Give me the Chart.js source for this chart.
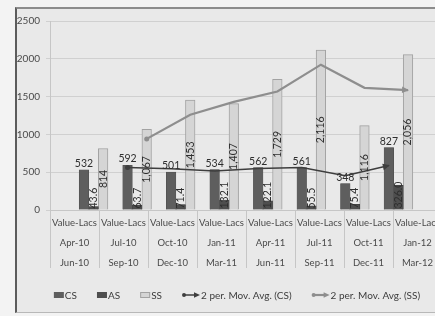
<!DOCTYPE html>
<html>
<head>
<meta charset="utf-8">
<script src="https://cdn.jsdelivr.net/npm/chart.js@4.4.1/dist/chart.umd.min.js"></script>
<style>
  html, body { margin: 0; padding: 0; width: 435px; height: 316px; overflow: hidden; background: #f3f3f3; }
  #frame {
    position: absolute; left: 15px; top: 7px; width: 440px; height: 303px;
    background: #e9e9e9; border-left: 2px solid #5c5c5c; border-top: 2px solid #8c8c8c;
    border-bottom: 1px solid #b8b8b8;
  }
  canvas { display: block; }
</style>
</head>
<body>
<div id="frame"><canvas id="chart" width="430" height="303"></canvas></div>
<script>
// quarters: start and end month of each period
const periodStart = ["Apr-10", "Jul-10", "Oct-10", "Jan-11", "Apr-11", "Jul-11", "Oct-11", "Jan-12"];
const periodEnd = ["Jun-10", "Sep-10", "Dec-10", "Mar-11", "Jun-11", "Sep-11", "Dec-11", "Mar-12"];
const measure = "Value-Lacs";

const csValues = [532, 592, 501, 534, 562, 561, 348, 827];
const asValues = [43.6, 63.7, 71.4, 132.1, 122.1, 55.5, 75.4, 326.0];
const ssValues = [814, 1067, 1453, 1407, 1729, 2116, 1116, 2056];

// 2 period moving averages, starting at the 2nd quarter
const csMovAvg = [562, 546.5, 517.5, 548, 561.5, 454.5, 587.5];
const ssMovAvg = [940.5, 1260, 1430, 1568, 1922.5, 1616, 1586];

const yTicks = [0, 500, 1000, 1500, 2000, 2500];

const CS_COLOR = "#5e5e5e";
const AS_COLOR = "#4e4e4e";
const SS_COLOR = "#d5d5d5";
const SS_BORDER = "#a2a2a2";
const CS_AVG_COLOR = "#3e3e3e";
const SS_AVG_COLOR = "#8e8e8e";

const slot = 0.22; // one bar width, in category units

Chart.defaults.font.family = "Lato, 'DejaVu Sans', sans-serif";
Chart.defaults.color = "#4a4a4a";

const labels = periodStart.map((s, i) => [measure, s, periodEnd[i]]);

// bars and trendlines share a hidden linear axis: CS left, AS middle, SS right
const csBars = csValues.map((v, i) => ({ x: i - slot, y: v }));
const asBars = asValues.map((v, i) => ({ x: i, y: v }));
const ssBars = ssValues.map((v, i) => ({ x: i + slot, y: v }));
const csAvgPoints = csMovAvg.map((v, i) => ({ x: i + 1 - slot, y: v }));
const ssAvgPoints = ssMovAvg.map((v, i) => ({ x: i + 1 + slot, y: v }));

function startDot(n) {
  return Array.from({ length: n }, (_, i) => (i === 0 ? 2.5 : 0));
}

const valueLabels = {
  id: "valueLabels",
  afterDatasetsDraw(chart) {
    const ctx = chart.ctx;
    ctx.save();
    ctx.fillStyle = "#2e2e2e";
    ctx.font = "10.5px Lato";
    chart.getDatasetMeta(0).data.forEach((bar, i) => {
      ctx.textAlign = "center";
      ctx.textBaseline = "bottom";
      ctx.fillText(csValues[i].toLocaleString("en-US"), bar.x, bar.y - 1);
    });
    chart.getDatasetMeta(1).data.forEach((bar, i) => {
      ctx.save();
      ctx.translate(bar.x, bar.base - 1);
      ctx.rotate(-Math.PI / 2);
      ctx.textAlign = "left";
      ctx.textBaseline = "middle";
      ctx.fillText(asValues[i].toFixed(1), 0, 0);
      ctx.restore();
    });
    chart.getDatasetMeta(2).data.forEach((bar, i) => {
      ctx.save();
      ctx.translate(bar.x, (bar.y + bar.base) / 2);
      ctx.rotate(-Math.PI / 2);
      ctx.textAlign = "center";
      ctx.textBaseline = "middle";
      ctx.fillText(ssValues[i].toLocaleString("en-US"), 0, 0);
      ctx.restore();
    });
    ctx.restore();
  }
};

function arrowHead(ctx, x, y, angle, size, color) {
  ctx.save();
  ctx.translate(x, y);
  ctx.rotate(angle);
  ctx.fillStyle = color;
  ctx.beginPath();
  ctx.moveTo(1, 0);
  ctx.lineTo(-size, -size * 0.55);
  ctx.lineTo(-size, size * 0.55);
  ctx.closePath();
  ctx.fill();
  ctx.restore();
}

const arrows = {
  id: "arrows",
  afterDatasetsDraw(chart) {
    [3, 4].forEach((idx) => {
      const pts = chart.getDatasetMeta(idx).data;
      const a = pts[pts.length - 2], b = pts[pts.length - 1];
      const ang = Math.atan2(b.y - a.y, b.x - a.x);
      arrowHead(chart.ctx, b.x, b.y, ang, 6, chart.data.datasets[idx].borderColor);
    });
  }
};

const legendItems = [
  { text: "CS", kind: "box", fill: CS_COLOR },
  { text: "AS", kind: "box", fill: AS_COLOR },
  { text: "SS", kind: "box", fill: SS_COLOR, stroke: SS_BORDER },
  { text: "2 per. Mov. Avg. (CS)", kind: "arrow", fill: CS_AVG_COLOR, lw: 1.5 },
  { text: "2 per. Mov. Avg. (SS)", kind: "arrow", fill: SS_AVG_COLOR, lw: 2.2 }
];

const bottomLegend = {
  id: "bottomLegend",
  afterDraw(chart) {
    const ctx = chart.ctx;
    ctx.save();
    ctx.font = "10px Lato";
    ctx.textBaseline = "middle";
    ctx.textAlign = "left";
    const gap = 20;
    const sizes = legendItems.map((it) => {
      const iw = it.kind === "box" ? 10 : 18;
      return { iw, tw: ctx.measureText(it.text).width };
    });
    const total = sizes.reduce((s, z) => s + z.iw + 1 + z.tw, 0) + gap * (legendItems.length - 1);
    let x = chart.width / 2 + 5 - total / 2;
    const y = 286;
    legendItems.forEach((it, i) => {
      const { iw, tw } = sizes[i];
      if (it.kind === "box") {
        ctx.fillStyle = it.fill;
        ctx.fillRect(x, y - 3, iw, 6);
        if (it.stroke) {
          ctx.strokeStyle = it.stroke;
          ctx.lineWidth = 1;
          ctx.strokeRect(x + 0.5, y - 2.5, iw - 1, 5);
        }
      } else {
        ctx.strokeStyle = it.fill;
        ctx.fillStyle = it.fill;
        ctx.lineWidth = it.lw;
        ctx.beginPath();
        ctx.moveTo(x + 2, y);
        ctx.lineTo(x + iw - 4, y);
        ctx.stroke();
        ctx.beginPath();
        ctx.arc(x + 2, y, 2, 0, Math.PI * 2);
        ctx.fill();
        arrowHead(ctx, x + iw - 1, y, 0, 5, it.fill);
      }
      ctx.fillStyle = "#3c3c3c";
      ctx.fillText(it.text, x + iw + 1, y + 0.5);
      x += iw + 1 + tw + gap;
    });
    ctx.restore();
  }
};

const barOpts = { xAxisID: "xl", grouped: false, categoryPercentage: 1, barPercentage: 1, order: 2 };

new Chart(document.getElementById("chart"), {
  type: "bar",
  data: {
    labels: labels,
    datasets: [
      { label: "CS", data: csBars, backgroundColor: CS_COLOR, borderColor: "#4a4a4a", borderWidth: 0.5, ...barOpts },
      { label: "AS", data: asBars, backgroundColor: AS_COLOR, borderColor: "#3a3a3a", borderWidth: 0.5, ...barOpts },
      { label: "SS", data: ssBars, backgroundColor: SS_COLOR, borderColor: SS_BORDER, borderWidth: 1, ...barOpts },
      {
        type: "line", label: "2 per. Mov. Avg. (CS)", data: csAvgPoints, xAxisID: "xl",
        borderColor: CS_AVG_COLOR, backgroundColor: CS_AVG_COLOR, borderWidth: 1.5,
        pointRadius: startDot(csAvgPoints.length), pointBorderWidth: 0, tension: 0, order: 0
      },
      {
        type: "line", label: "2 per. Mov. Avg. (SS)", data: ssAvgPoints, xAxisID: "xl",
        borderColor: SS_AVG_COLOR, backgroundColor: SS_AVG_COLOR, borderWidth: 2.2,
        pointRadius: startDot(ssAvgPoints.length), pointBorderWidth: 0, tension: 0, order: 1
      }
    ]
  },
  options: {
    responsive: false,
    animation: false,
    devicePixelRatio: 1,
    layout: { padding: { top: 10, right: 5, left: 0, bottom: 35 } },
    plugins: { legend: { display: false }, tooltip: { enabled: false } },
    scales: {
      x: {
        type: "category",
        offset: true,
        grid: { offset: true, drawOnChartArea: false, tickLength: 58, color: "#c6c6c6" },
        border: { color: "#c6c6c6" },
        ticks: {
          autoSkip: false, maxRotation: 0, padding: -55,
          font: { size: 9.5, lineHeight: 20 / 9.5 }, color: "#4a4a4a"
        },
        afterFit(scale) { scale.height = 67; }
      },
      xl: {
        type: "linear", display: false, min: -0.5, max: periodStart.length - 0.5,
        ticks: { stepSize: 1 }
      },
      y: {
        min: yTicks[0], max: yTicks[yTicks.length - 1],
        afterBuildTicks(scale) { scale.ticks = yTicks.map((v) => ({ value: v })); },
        grid: { color: "#d0d0d0", tickLength: 4 },
        border: { color: "#c6c6c6" },
        ticks: { padding: 6, font: { size: 10 }, color: "#4a4a4a", callback: (v) => String(v) },
        afterFit(scale) { scale.width = 33; }
      }
    }
  },
  plugins: [valueLabels, arrows, bottomLegend]
});
</script>
</body>
</html>
